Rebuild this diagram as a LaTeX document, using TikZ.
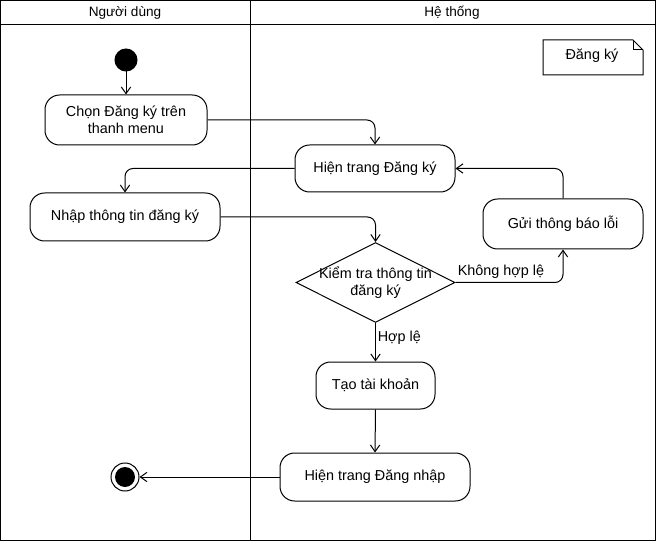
\documentclass[tikz,border=0pt]{standalone}
\usepackage{fontspec}
\setmainfont{Liberation Sans}
\usetikzlibrary{arrows.meta,shapes.geometric}
\begin{document}
\begin{tikzpicture}[x=0.75pt,y=-0.75pt,
  every node/.style={font=\fontsize{10.8}{13}\selectfont},
  hdr/.style={font=\fontsize{10.2}{12}\selectfont},
  act/.style={draw,rounded corners=11pt,align=center,inner sep=0pt},
  flow/.style={draw,-{Straight Barb[length=5pt,width=7pt]},rounded corners=6pt},
  line width=0.75pt]
\useasboundingbox (0,0) rectangle (656,541);
% swimlanes
\draw (0.5,0.5) rectangle (655.5,540.5);
\draw (0.5,24.5) -- (655.5,24.5);
\draw (250.5,0.5) -- (250.5,540.5);
\node[hdr] (h1) at (125,13) {Người dùng};
\node[hdr] (h2) at (452,13) {Hệ thống};
% note
\draw (543,40) -- (633,40) -- (643,50) -- (643,75) -- (543,75) -- cycle;
\draw (633,40) -- (633,50) -- (643,50);
\node (note) at (592,56) {Đăng ký};
% nodes
\node[draw,circle,fill=black,minimum size=16.5pt,inner sep=0pt] (start) at (126,60) {};
\node[act,minimum width=121.5pt,minimum height=37.5pt] (b1) at (126,120) {Chọn Đăng ký trên\\thanh menu};
\node[act,minimum width=120pt,minimum height=35.25pt] (b2) at (375,168.5) {Hiện trang Đăng ký};
\node[act,minimum width=142.5pt,minimum height=36pt] (b3) at (125,217) {Nhập thông tin đăng ký};
\node[draw,diamond,aspect=2,minimum width=119.25pt,minimum height=60pt,inner sep=0pt,align=center] (d) at (375.5,282.5) {};
\node[align=center] (dt) at (375.5,282.5) {Kiểm tra thông tin\\đăng ký};
\node[act,minimum width=120pt,minimum height=37.5pt] (b4) at (563,224) {Gửi thông báo lỗi};
\node[act,minimum width=89.25pt,minimum height=35.25pt] (b5) at (375.5,385.5) {Tạo tài khoản};
\node[act,minimum width=142.5pt,minimum height=36pt] (b6) at (375,477) {Hiện trang Đăng nhập};
\node[draw,circle,minimum size=21pt,inner sep=0pt] (end) at (125,477) {};
\node[circle,fill=black,minimum size=15pt,inner sep=0pt] (endin) at (125,477) {};
% edges
\draw[flow] (start) -- (b1);
\draw[flow] (b1.east) -| (b2.north);
\draw[flow] (b2.west) -| (b3.north);
\draw[flow] (b3.east) -| (d.north);
\draw[flow] (d.east) -| (b4.south);
\node[anchor=west,inner sep=1pt] (l1) at (456,272) {Không hợp lệ};
\draw[flow] (b4.north) |- (b2.east);
\draw[flow] (d.south) -- (b5.north);
\node[anchor=west,inner sep=1pt] (l2) at (376,338) {Hợp lệ};
\draw[flow] (b5.south) -- (b6.north);
\draw[flow] (b6.west) -- (end.east);
\end{tikzpicture}
\end{document}
